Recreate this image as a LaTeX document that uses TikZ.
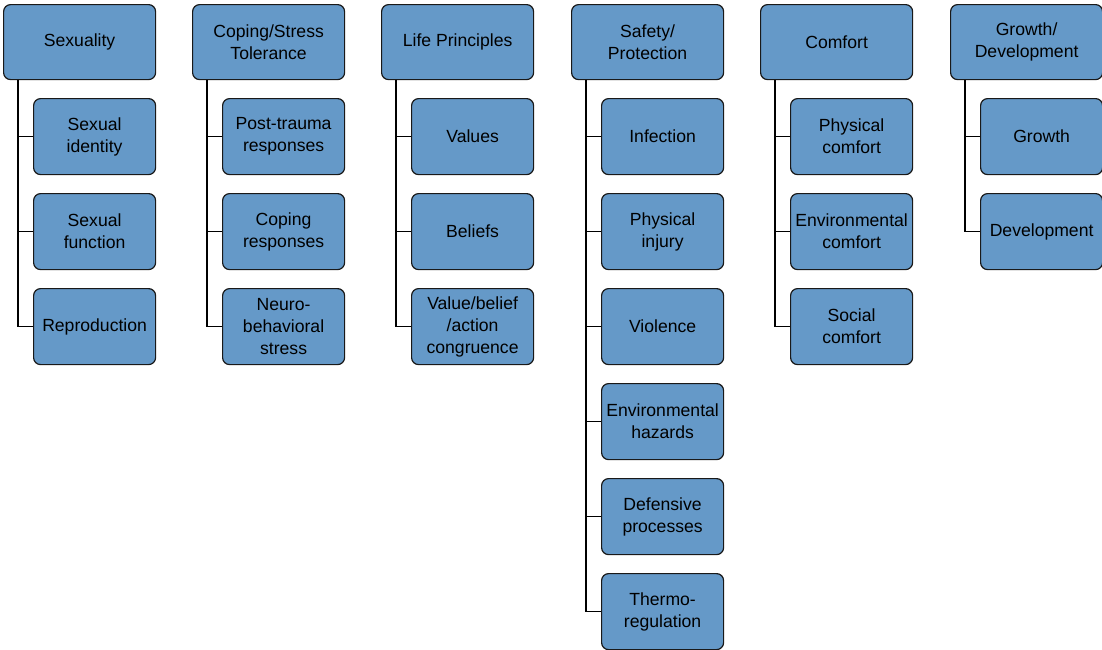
\documentclass[tikz,border=0pt]{standalone}
\usepackage{fontspec}
\setmainfont{Liberation Sans}
\definecolor{boxblue}{RGB}{101,153,200}
\definecolor{edge}{RGB}{25,25,25}
\tikzset{
  base/.style={draw=edge, line width=1.2pt, fill=boxblue, rounded corners=7pt,
    align=center, inner sep=0pt, font=\fontsize{17.6}{22}\selectfont, anchor=north west},
  topbox/.style={base, minimum width=152pt, minimum height=75pt},
  subbox/.style={base, minimum width=122pt, minimum height=76pt},
  conn/.style={draw=black, line width=1.2pt}
}
\begin{document}
\begin{tikzpicture}[x=1pt,y=-1pt]
\useasboundingbox (0,0) rectangle (1102,649);
% top boxes
\node[topbox] (c1) at (3,4) {Sexuality};
\node[topbox] (c2) at (192,4) {Coping/Stress\\Tolerance};
\node[topbox] (c3) at (381,4) {Life Principles};
\node[topbox] (c4) at (571,4) {Safety/\\Protection};
\node[topbox] (c5) at (760,4) {Comfort};
\node[topbox] (c6) at (950,4) {Growth/\\Development};
% children
\node[subbox] (c1a) at (33,98) {Sexual\\identity};
\node[subbox] (c1b) at (33,193) {Sexual\\function};
\node[subbox] (c1c) at (33,288) {Reproduction};
\node[subbox] (c2a) at (222,98) {Post-trauma\\responses};
\node[subbox] (c2b) at (222,193) {Coping\\responses};
\node[subbox] (c2c) at (222,288) {Neuro-\\behavioral\\stress};
\node[subbox] (c3a) at (411,98) {Values};
\node[subbox] (c3b) at (411,193) {Beliefs};
\node[subbox] (c3c) at (411,288) {Value/belief\\/action\\congruence};
\node[subbox] (c4a) at (601,98) {Infection};
\node[subbox] (c4b) at (601,193) {Physical\\injury};
\node[subbox] (c4c) at (601,288) {Violence};
\node[subbox] (c4d) at (601,383) {Environmental\\hazards};
\node[subbox] (c4e) at (601,478) {Defensive\\processes};
\node[subbox] (c4f) at (601,573) {Thermo-\\regulation};
\node[subbox] (c5a) at (790,98) {Physical\\comfort};
\node[subbox] (c5b) at (790,193) {Environmental\\comfort};
\node[subbox] (c5c) at (790,288) {Social\\comfort};
\node[subbox] (c6a) at (980,98) {Growth};
\node[subbox] (c6b) at (980,193) {Development};
% connectors
\foreach \p/\kids/\last in {c1/{c1a,c1b}/c1c, c2/{c2a,c2b}/c2c, c3/{c3a,c3b}/c3c,
  c4/{c4a,c4b,c4c,c4d,c4e}/c4f, c5/{c5a,c5b}/c5c, c6/{c6a}/c6b}{
  \coordinate (\p s) at ([xshift=15pt]\p.south west);
  \draw[conn] (\p s) |- (\last.west);
  \foreach \k in \kids {
    \draw[conn] (\k.west) -- (\k.west -| \p s);
  }
}
\end{tikzpicture}
\end{document}
